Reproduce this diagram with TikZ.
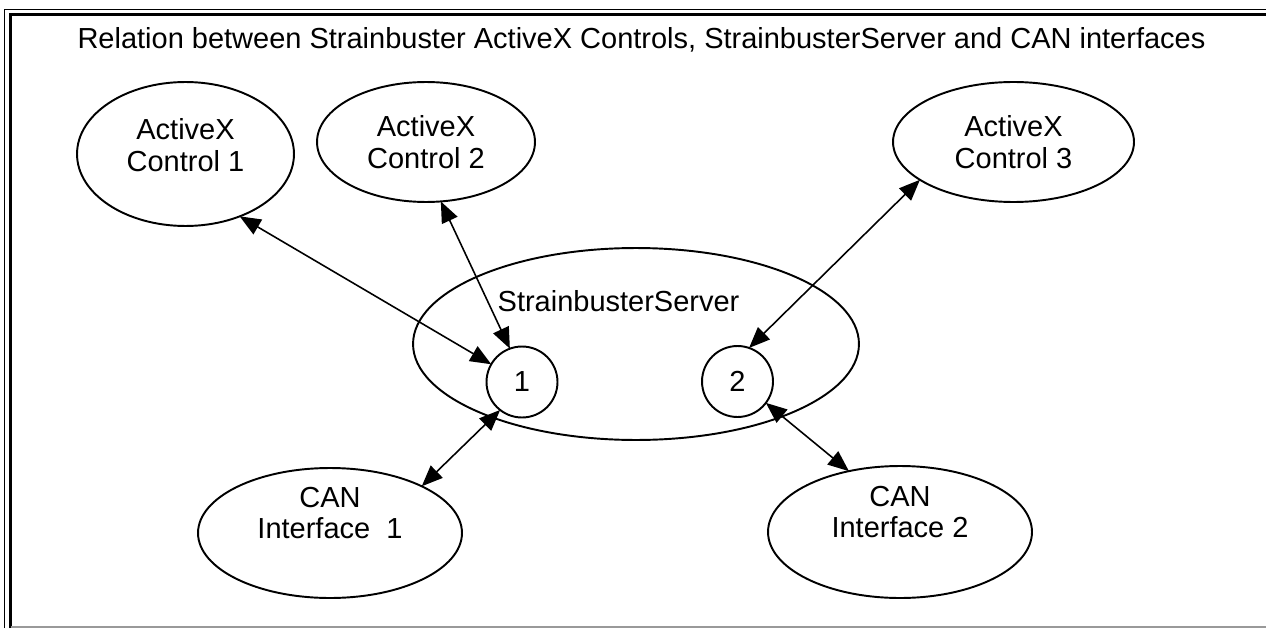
\documentclass[tikz,border=0pt]{standalone}
\usepackage{fontspec}
\setmainfont{Liberation Sans}
\usetikzlibrary{shapes.geometric,arrows.meta}
\begin{document}
\begin{tikzpicture}[x=0.02cm,y=-0.02cm,
  every node/.style={font=\fontsize{16.5}{18.2}\selectfont},
  oval/.style={ellipse,draw,line width=1.1pt,inner sep=0pt,outer sep=0pt,align=center},
  port/.style={circle,draw,line width=1.1pt,inner sep=0pt,outer sep=0pt,minimum size=1.42cm},
  link/.style={line width=0.9pt,{Triangle[length=0.42cm,width=0.34cm]}-{Triangle[length=0.42cm,width=0.34cm]}}]
\useasboundingbox (0,0) rectangle (1266,628);
% frame
\draw[line width=0.6pt] (4.5,628) -- (4.5,9.5) -- (1266,9.5);
\draw[line width=1.7pt] (10.5,628) -- (10.5,14.5) -- (1266,14.5);
\draw[black!40, line width=0.6pt] (10.5,627) -- (1266,627);
% title
\node[anchor=base] (title) at (641.5,49) {Relation between Strainbuster ActiveX Controls, StrainbusterServer and CAN interfaces};
% nodes
\node[oval,minimum width=4.34cm,minimum height=2.88cm,
  label={[name=e1t,align=center,yshift=0.18cm]center:ActiveX\\Control 1}] (e1) at (185.5,154) {};
\node[oval,minimum width=4.36cm,minimum height=2.4cm] (e2) at (426,142) {ActiveX\\Control 2};
\node[oval,minimum width=4.82cm,minimum height=2.4cm] (e3) at (1013.5,142) {ActiveX\\Control 3};
\node[oval,minimum width=8.92cm,minimum height=3.84cm] (srv) at (636,344) {};
\node (srvtext) at (618.5,301) {StrainbusterServer};
\node[port] (c1) at (522,382) {1};
\node[port] (c2) at (737.5,381.5) {2};
\node[oval,minimum width=5.28cm,minimum height=2.6cm,
  label={[name=can1t,align=center,yshift=0.4cm]center:CAN\\Interface\ \ 1}] (can1) at (330,533) {};
\node[oval,minimum width=5.28cm,minimum height=2.64cm,
  label={[name=can2t,align=center,yshift=0.4cm]center:CAN\\Interface 2}] (can2) at (900,532) {};
% connectors
\draw[link] (e1.-49) -- (c1.150);
\draw[link] (e2.-76) -- (c1.110);
\draw[link] (e3.-158) -- (c2.71);
\draw[link] (c1.-128) -- (can1.27);
\draw[link] (c2.-37) -- (can2.130);
\end{tikzpicture}
\end{document}
